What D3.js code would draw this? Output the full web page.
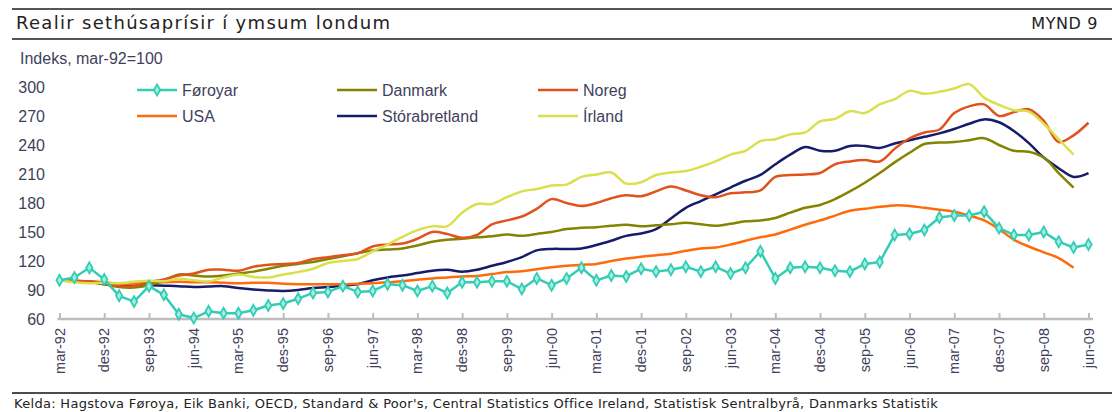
<!DOCTYPE html>
<html>
<head>
<meta charset="utf-8">
<script src="https://cdn.jsdelivr.net/npm/d3@7"></script>
<style>
  body { margin: 0; background: #fff; }
  svg { display: block; }
</style>
</head>
<body>
<svg id="chart" width="1112" height="412"></svg>
<script>
// quarters mar-92 .. jun-09
var months = ["mar", "jun", "sep", "des"];
var quarters = [];
for (var yr = 92; yr <= 109; yr++) {
  months.forEach(function (m) {
    var lab = m + "-" + String(yr % 100).padStart(2, "0");
    if (quarters.length < 70) quarters.push(lab);
  });
}

var yTicks = [60, 90, 120, 150, 180, 210, 240, 270, 300];

var foroyar = [100, 103, 113, 101, 84, 78, 94, 85, 65, 61, 68, 66, 66, 69, 74, 76, 81, 87, 88, 94,
  88, 89, 96, 95, 89, 94, 87, 98, 98, 99, 99, 91, 102, 95, 102, 113, 100, 105, 104, 112,
  109, 111, 114, 109, 114, 107, 113, 130, 102, 113, 114, 113, 110, 109, 117, 119, 147, 148, 152, 165,
  167, 167, 171, 154, 147, 147, 150, 140, 134, 137];

var danmark = [100, 99, 98, 96, 93, 92.5, 95, 100, 106, 105, 104, 105, 107, 109, 112, 115, 117, 119, 122, 125,
  128, 131, 132, 133, 136, 140, 142, 143, 144.5, 145.5, 147.5, 146, 148, 150, 153, 154.5, 155, 156.5, 157.5, 156,
  157, 158, 159.5, 158, 156.5, 158.5, 161, 162, 164.5, 170, 175, 178, 184, 192, 201, 211, 222, 232, 241, 242.5,
  243, 245, 247, 240, 234, 233, 227, 211, 196];

var noreg = [100, 99.5, 99, 97, 94, 94, 98, 101, 105, 107, 111, 111, 110, 114, 116, 117, 118, 122, 124, 126,
  128, 135, 137, 138, 143, 150, 148, 144, 147, 158, 162, 166, 174, 184, 180, 177, 180, 185, 188, 187,
  192, 197, 193, 188, 186, 190, 191, 193, 207, 209, 209.5, 211, 220, 223, 224.5, 223, 236, 247, 253, 256,
  273, 280, 282, 270, 274, 277, 265, 243, 250, 263];

var usa = [100, 99.5, 99, 98, 96.5, 96.5, 97.5, 98, 98.5, 98, 98, 97.5, 97, 97.5, 97.5, 96.5, 96, 96, 96, 96,
  96.5, 97, 98, 99, 100.5, 102, 103, 104, 104.5, 106.5, 108.5, 109.5, 111.5, 113.5, 115, 116, 117, 120, 122.5, 124.5,
  126, 127.5, 130.5, 133, 134, 137, 141, 144.5, 147.5, 152.5, 157.5, 162, 167, 172, 174, 176, 177.5, 177, 175, 173,
  171, 167, 162, 153, 142, 135, 129, 123, 113];

var bretland = [100, 99.5, 98.5, 96, 94.5, 95, 95, 94.5, 94, 93, 93.5, 94, 92, 90.5, 89.5, 89, 90, 92, 93, 94.5,
  96, 100, 103, 105, 107.5, 110, 111, 109, 111, 115, 119, 124, 131, 132.5, 132.5, 133, 136.5, 141, 146, 148.5,
  153, 164, 175, 182, 189, 196, 203, 209, 220, 230, 238, 234, 234, 239, 239, 237, 241.5, 245, 248.5, 252,
  256.5, 262, 266.5, 263.5, 254.5, 242, 227, 216, 207, 211];

var irland = [100, 98, 97, 97.5, 97, 98.5, 99.5, 99, 101.5, 100, 99, 103, 106, 103.5, 103, 106, 108.5, 112, 118, 120,
  122, 130, 137, 145, 152, 156, 156, 170, 179, 179, 186, 192, 194.5, 198, 199, 207, 209.5, 211.5, 200, 201.5,
  209, 211.5, 213, 217.5, 223, 230, 234, 244, 246, 251, 253, 264.5, 267, 275, 273, 282, 287.5, 296, 293, 295,
  298.5, 303, 289, 281.5, 276, 274.5, 262, 246, 230];

var seriesNames = ["Føroyar", "Danmark", "Noreg", "USA", "Stórabretland", "Írland"];
var seriesData = [foroyar, danmark, noreg, usa, bretland, irland];
var seriesColors = ["#33CDB4", "#848400", "#E0531C", "#FF6B0A", "#161C68", "#DADF4C"];

var svg = d3.select("#chart");
var textCol = "#3f3f5c";

// frame lines and titles
svg.append("line").attr("x1", 12).attr("x2", 1112).attr("y1", 9).attr("y2", 9)
  .attr("stroke", "#555").attr("stroke-width", 2);
svg.append("line").attr("x1", 12).attr("x2", 1112).attr("y1", 39).attr("y2", 39)
  .attr("stroke", "#555").attr("stroke-width", 2);
svg.append("text").attr("x", 16).attr("y", 29)
  .style("font-family", "DejaVu Sans").style("font-size", "18px").style("fill", "#222")
  .style("letter-spacing", "1.3px")
  .text("Realir sethúsaprísir í ymsum londum");
svg.append("text").attr("x", 1098).attr("y", 29).attr("text-anchor", "end")
  .style("font-family", "DejaVu Sans").style("font-size", "16px").style("fill", "#222")
  .style("letter-spacing", "0.6px")
  .text("MYND 9");
svg.append("text").attr("x", 20).attr("y", 64)
  .style("font-family", "Liberation Sans").style("font-size", "16px").style("fill", textCol)
  .text("Indeks, mar-92=100");

// footer
svg.append("line").attr("x1", 12).attr("x2", 1112).attr("y1", 393).attr("y2", 393)
  .attr("stroke", "#111").attr("stroke-width", 1.5);
svg.append("text").attr("x", 14).attr("y", 408)
  .style("font-family", "DejaVu Sans").style("font-size", "13px").style("fill", "#222")
  .style("letter-spacing", "0.3px")
  .text("Kelda: Hagstova Føroya, Eik Banki, OECD, Standard & Poor's, Central Statistics Office Ireland, Statistisk Sentralbyrå, Danmarks Statistik");

// scales
var x = d3.scalePoint().domain(quarters).range([59.5, 1088.5]);
var y = d3.scaleLinear().domain([60, 300]).range([319, 87]);

// x axis
var xAxis = svg.append("g").attr("class", "xAxis").attr("transform", "translate(0,319)")
  .call(d3.axisTop(x).tickValues(quarters.filter(function (d, i) { return i % 3 === 0; }))
    .tickSize(6).tickSizeOuter(0).tickFormat(""));
xAxis.select(".domain").attr("d", "M57.5,0H1093").attr("stroke", "#bdbdbd").attr("stroke-width", 2.5);
xAxis.selectAll(".tick line").attr("stroke", "#bdbdbd").attr("stroke-width", 2);

svg.append("g").selectAll("text")
  .data(quarters.filter(function (d, i) { return i % 3 === 0; }))
  .join("text")
  .attr("transform", function (d) { return "translate(" + (x(d) + 5) + ",328) rotate(-90)"; })
  .attr("text-anchor", "end")
  .style("font-family", "Liberation Sans").style("font-size", "14.5px").style("fill", textCol)
  .text(function (d) { return d; });

// y axis labels
var yAxis = svg.append("g").attr("class", "yAxis").attr("transform", "translate(45,0)")
  .call(d3.axisLeft(y).tickValues(yTicks).tickSize(0).tickPadding(0));
yAxis.select(".domain").remove();
yAxis.selectAll("text")
  .style("font-family", "Liberation Sans").style("font-size", "16px").style("fill", textCol);

// lines
var smooth = d3.line()
  .x(function (d, i) { return x(quarters[i]); })
  .y(function (d) { return y(d); })
  .curve(d3.curveCatmullRom.alpha(0.5));
var straight = d3.line()
  .x(function (d, i) { return x(quarters[i]); })
  .y(function (d) { return y(d); });

var drawOrder = [4, 3, 1, 2, 5, 0];
drawOrder.forEach(function (k) {
  svg.append("path")
    .datum(seriesData[k])
    .attr("fill", "none")
    .attr("stroke", seriesColors[k])
    .attr("stroke-width", 2.5)
    .attr("stroke-linejoin", "round")
    .attr("d", k === 0 ? straight : smooth);
});

var diamond = d3.symbol().type(d3.symbolDiamond).size(34);
svg.append("g").selectAll("path")
  .data(foroyar)
  .join("path")
  .attr("transform", function (d, i) { return "translate(" + x(quarters[i]) + "," + y(d) + ")"; })
  .attr("d", diamond)
  .attr("fill", "#a6ece0")
  .attr("stroke", seriesColors[0])
  .attr("stroke-width", 1.8);

// legend
var legX = [137, 337, 538];
var legY = [90, 116];
var legend = svg.append("g");
seriesNames.forEach(function (name, k) {
  var lx = legX[k % 3], ly = legY[Math.floor(k / 3)];
  legend.append("line").attr("x1", lx).attr("x2", lx + 40).attr("y1", ly).attr("y2", ly)
    .attr("stroke", seriesColors[k]).attr("stroke-width", 2.5);
  if (k === 0) {
    legend.append("path").attr("transform", "translate(" + (lx + 20) + "," + ly + ")")
      .attr("d", diamond).attr("fill", "#a6ece0").attr("stroke", seriesColors[0]).attr("stroke-width", 1.8);
  }
  legend.append("text").attr("x", lx + 45).attr("y", ly + 6)
    .style("font-family", "Liberation Sans").style("font-size", "16px").style("fill", textCol)
    .text(name);
});
</script>
</body>
</html>
